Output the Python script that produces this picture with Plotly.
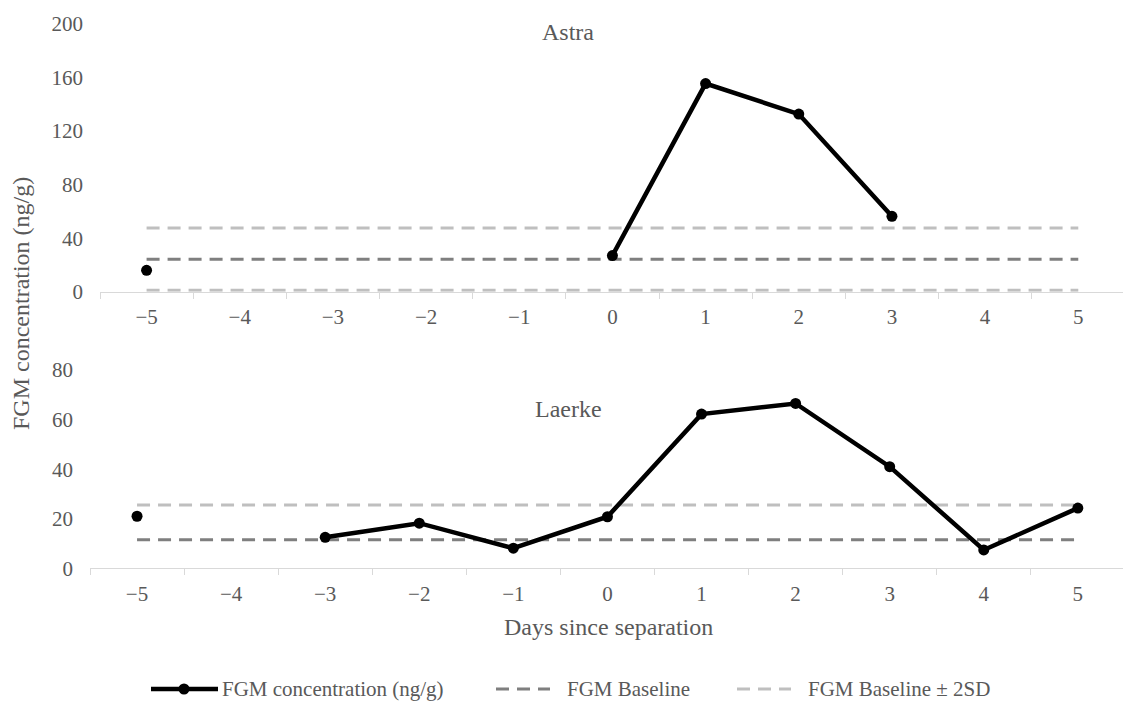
import plotly.graph_objects as go

# Days relative to separation and FGM values (ng/g) for each animal
days = [-5, -4, -3, -2, -1, 0, 1, 2, 3, 4, 5]
day_labels = ["\u22125", "\u22124", "\u22123", "\u22122", "\u22121", "0", "1", "2", "3", "4", "5"]

astra_fgm = [16, None, None, None, None, 27, 155.5, 132.7, 56.3, None, None]
laerke_fgm = [21, None, 12.5, 18.2, 8.1, 20.8, 62.2, 66.5, 41, 7.4, 24.3]

astra_baseline = 24.3
astra_2sd = 23.3
laerke_baseline = 11.5
laerke_2sd = 14.0

astra_yticks = [0, 40, 80, 120, 160, 200]
laerke_yticks = [0, 20, 40, 60, 80]

series_names = ["FGM concentration (ng/g)", "FGM Baseline", "FGM Baseline \u00b1 2SD"]

W, H = 1123, 702
FONT = "Liberation Serif, Times New Roman, serif"
TEXT = "#595959"
DARK_DASH = "#7f7f7f"
LIGHT_DASH = "#bfbfbf"
AXIS = "#d9d9d9"
DASH = "13px,8px"


def fy(px):
    """Pixel row (from the top) to paper fraction."""
    return 1 - px / H


def fx(px):
    """Pixel column to paper fraction."""
    return px / W


fig = go.Figure()

panels = [
    ("x", "y", astra_fgm, astra_baseline, astra_2sd),
    ("x2", "y2", laerke_fgm, laerke_baseline, laerke_2sd),
]

for xa, ya, values, base, sd2 in panels:
    for level in (base + sd2, base - sd2):
        fig.add_trace(go.Scatter(
            x=days, y=[level] * len(days), xaxis=xa, yaxis=ya, mode="lines",
            line=dict(color=LIGHT_DASH, width=3, dash=DASH),
            name=series_names[2], hoverinfo="skip"))
    fig.add_trace(go.Scatter(
        x=days, y=[base] * len(days), xaxis=xa, yaxis=ya, mode="lines",
        line=dict(color=DARK_DASH, width=3, dash=DASH),
        name=series_names[1]))
    fig.add_trace(go.Scatter(
        x=days, y=values, xaxis=xa, yaxis=ya, mode="lines+markers",
        line=dict(color="black", width=4.5),
        marker=dict(color="black", size=11),
        connectgaps=False, name=series_names[0]))

xaxis_common = dict(
    range=[-5.5, 5.48], tickmode="array", tickvals=days, ticktext=day_labels,
    ticks="", showgrid=False, zeroline=False, showline=True,
    linecolor=AXIS, linewidth=1.3, automargin=False,
    minor=dict(tick0=-5.5, dtick=1, ticks="outside", ticklen=6,
               tickcolor=AXIS, tickwidth=1.3, showgrid=False),
    tickfont=dict(family=FONT, size=21, color=TEXT),
    ticklabelstandoff=6, fixedrange=True,
)
yaxis_common = dict(
    showgrid=False, zeroline=False, showline=False, ticks="",
    tickfont=dict(family=FONT, size=21, color=TEXT), automargin=False,
    ticklabelstandoff=16, fixedrange=True,
)

# Legend row along the bottom: key samples drawn as shapes, names as text
LEG_Y = 689
shapes = [
    dict(type="line", xref="paper", yref="paper", x0=fx(151), x1=fx(218),
         y0=fy(LEG_Y), y1=fy(LEG_Y), line=dict(color="black", width=4.5)),
    dict(type="circle", xref="paper", yref="paper",
         x0=fx(184 - 5.5), x1=fx(184 + 5.5), y0=fy(LEG_Y + 5.5), y1=fy(LEG_Y - 5.5),
         fillcolor="black", line=dict(color="black", width=0)),
    dict(type="line", xref="paper", yref="paper", x0=fx(496), x1=fx(550),
         y0=fy(LEG_Y), y1=fy(LEG_Y), line=dict(color=DARK_DASH, width=3, dash=DASH)),
    dict(type="line", xref="paper", yref="paper", x0=fx(737), x1=fx(791),
         y0=fy(LEG_Y), y1=fy(LEG_Y), line=dict(color=LIGHT_DASH, width=3, dash=DASH)),
]

legend_text_x = [220, 565, 806]
annotations = [
    dict(text=name, x=fx(px), y=fy(LEG_Y), xref="paper", yref="paper",
         xanchor="left", yanchor="middle", showarrow=False,
         font=dict(family=FONT, size=21, color=TEXT))
    for name, px in zip(series_names, legend_text_x)
]
annotations += [
    dict(text="Astra", x=fx(568), y=fy(32), xref="paper", yref="paper",
         xanchor="center", yanchor="middle", showarrow=False,
         font=dict(family=FONT, size=24, color=TEXT)),
    dict(text="Laerke", x=fx(568), y=fy(409), xref="paper", yref="paper",
         xanchor="center", yanchor="middle", showarrow=False,
         font=dict(family=FONT, size=24, color=TEXT)),
    dict(text="Days since separation", x=fx(608), y=fy(627),
         xref="paper", yref="paper", xanchor="center", yanchor="middle",
         showarrow=False, font=dict(family=FONT, size=24, color=TEXT)),
    dict(text="FGM concentration (ng/g)", x=fx(21), y=fy(304),
         xref="paper", yref="paper", xanchor="center", yanchor="middle",
         showarrow=False, textangle=-90,
         font=dict(family=FONT, size=24, color=TEXT)),
]

fig.update_layout(
    width=W, height=H,
    margin=dict(l=0, r=0, t=0, b=0, autoexpand=False),
    paper_bgcolor="white", plot_bgcolor="white",
    font=dict(family=FONT, size=21, color=TEXT),
    showlegend=False,
    xaxis=dict(domain=[fx(100), 1], anchor="y", **xaxis_common),
    yaxis=dict(domain=[fy(291.7), fy(24)], range=[0, 200],
               tickvals=astra_yticks, anchor="x", **yaxis_common),
    xaxis2=dict(domain=[fx(90), 1], anchor="y2", **xaxis_common),
    yaxis2=dict(domain=[fy(568.3), fy(370)], range=[0, 80],
                tickvals=laerke_yticks, anchor="x2", **yaxis_common),
    shapes=shapes,
    annotations=annotations,
)

fig.write_html("out.html")
